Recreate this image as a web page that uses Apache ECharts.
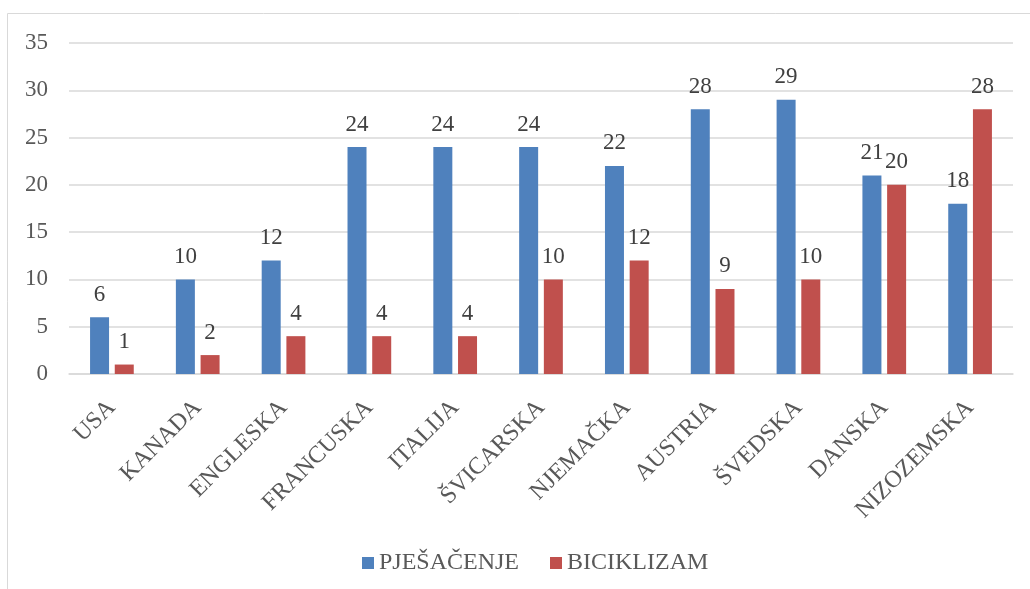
<!DOCTYPE html>
<html>
<head>
<meta charset="utf-8">
<script src="https://cdn.jsdelivr.net/npm/echarts@6/dist/echarts.min.js"></script>
<style>
  html, body { margin: 0; padding: 0; background: #fff; }
  #main { width: 1030px; height: 589px; }
</style>
</head>
<body>
<div id="main"></div>
<script>
let categories = ["USA", "KANADA", "ENGLESKA", "FRANCUSKA", "ITALIJA", "ŠVICARSKA", "NJEMAČKA", "AUSTRIA", "ŠVEDSKA", "DANSKA", "NIZOZEMSKA"];
let pjesacenje = [6, 10, 12, 24, 24, 24, 22, 28, 29, 21, 18];
let biciklizam = [1, 2, 4, 4, 4, 10, 12, 9, 10, 20, 28];
let yTicks = { min: 0, max: 35, interval: 5 };

let font = "'Liberation Serif', 'Times New Roman', serif";

let myChart = echarts.init(document.getElementById("main"));
let option = {
  animation: false,
  textStyle: { fontFamily: font },
  graphic: [
    {
      type: "rect",
      shape: { x: 7.5, y: 13.5, width: 1100, height: 700 },
      style: { fill: "none", stroke: "#d9d9d9", lineWidth: 1 },
      silent: true,
    },
  ],
  legend: {
    top: 546,
    left: 357,
    itemWidth: 12,
    itemHeight: 12,
    itemGap: 31,
    icon: "rect",
    textStyle: { fontFamily: font, fontSize: 24, color: "#595959" },
    data: ["PJEŠAČENJE", "BICIKLIZAM"],
  },
  grid: { left: 69, right: 17, top: 43, bottom: 215, containLabel: false },
  xAxis: {
    type: "category",
    data: categories,
    axisLine: { lineStyle: { color: "#d9d9d9", width: 1.5 } },
    axisTick: { show: false },
    axisLabel: {
      rotate: 45,
      interval: 0,
      fontSize: 24,
      color: "#595959",
      fontFamily: font,
      margin: 30,
    },
  },
  yAxis: {
    type: "value",
    min: yTicks.min,
    max: yTicks.max,
    interval: yTicks.interval,
    axisLine: { show: false },
    axisTick: { show: false },
    splitLine: { lineStyle: { color: "#d9d9d9", width: 1.5 } },
    axisLabel: { fontSize: 23, color: "#595959", fontFamily: font, margin: 21 },
  },
  series: [
    {
      name: "PJEŠAČENJE",
      type: "bar",
      data: pjesacenje,
      barWidth: 19,
      barGap: "30%",
      itemStyle: { color: "#4f81bd" },
      label: { show: true, position: "top", fontSize: 23, color: "#404040", fontFamily: font, distance: 11 },
    },
    {
      name: "BICIKLIZAM",
      type: "bar",
      data: biciklizam,
      barWidth: 19,
      barGap: "30%",
      itemStyle: { color: "#c0504d" },
      label: { show: true, position: "top", fontSize: 23, color: "#404040", fontFamily: font, distance: 11 },
    },
  ],
};
myChart.setOption(option);
window.addEventListener("resize", () => {
  myChart.resize();
});
</script>
</body>
</html>
